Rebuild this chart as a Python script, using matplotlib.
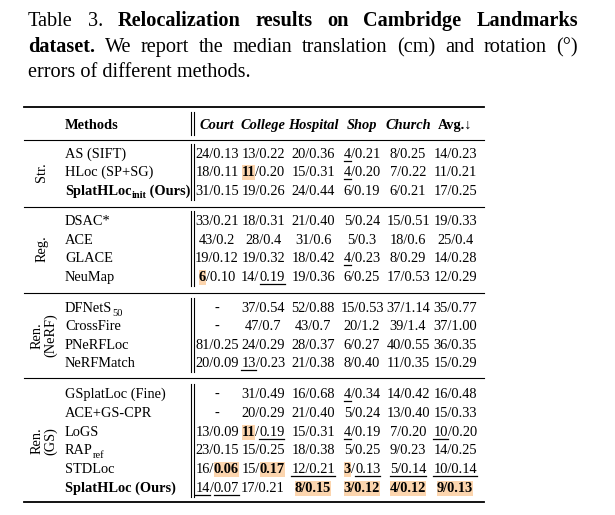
import matplotlib
matplotlib.use("Agg")
import matplotlib.pyplot as plt
from matplotlib.patches import Rectangle

# ---------------- data ----------------
columns = ["Court", "College", "Hospital", "Shop", "Church", "Avg.↓"]
groups = [("Str.", 3), ("Reg.", 4), ("Ren.\n(NeRF)", 4), ("Ren.\n(GS)", 6)]
# method names: list of (text, bold, sub)
methods = [
    [("AS (SIFT)", 0, 0)],
    [("HLoc (SP+SG)", 0, 0)],
    [("SplatHLoc", 1, 0), ("init", 1, 1), (" (Ours)", 1, 0)],
    [("DSAC*", 0, 0)],
    [("ACE", 0, 0)],
    [("GLACE", 0, 0)],
    [("NeuMap", 0, 0)],
    [("DFNetS", 0, 0), ("50", 0, 1)],
    [("CrossFire", 0, 0)],
    [("PNeRFLoc", 0, 0)],
    [("NeRFMatch", 0, 0)],
    [("GSplatLoc (Fine)", 0, 0)],
    [("ACE+GS-CPR", 0, 0)],
    [("LoGS", 0, 0)],
    [("RAP", 0, 0), ("ref", 0, 1)],
    [("STDLoc", 0, 0)],
    [("SplatHLoc (Ours)", 1, 0)],
]
# '*' = best (bold + highlight), '_' = second best (underline)
court = ["24/0.13", "18/0.11", "31/0.15", "33/0.21", "43/0.2", "19/0.12", "*6*/0.10",
         "-", "-", "81/0.25", "20/0.09", "-", "-", "13/0.09", "23/0.15", "16/*0.06*", "_14_/_0.07_"]
college = ["13/0.22", "*11*/0.20", "19/0.26", "18/0.31", "28/0.4", "19/0.32", "14/_0.19_",
           "37/0.54", "47/0.7", "24/0.29", "_13_/0.23", "31/0.49", "20/0.29", "*11*/_0.19_",
           "15/0.25", "15/*0.17*", "17/0.21"]
hospital = ["20/0.36", "15/0.31", "24/0.44", "21/0.40", "31/0.6", "18/0.42", "19/0.36",
            "52/0.88", "43/0.7", "28/0.37", "21/0.38", "16/0.68", "21/0.40", "15/0.31",
            "18/0.38", "_12/0.21_", "*8/0.15*"]
shop = ["_4_/0.21", "_4_/0.20", "6/0.19", "5/0.24", "5/0.3", "_4_/0.23", "6/0.25",
        "15/0.53", "20/1.2", "6/0.27", "8/0.40", "_4_/0.34", "5/0.24", "_4_/0.19",
        "5/0.25", "*3*/_0.13_", "*3/0.12*"]
church = ["8/0.25", "7/0.22", "6/0.21", "15/0.51", "18/0.6", "8/0.29", "17/0.53",
          "37/1.14", "39/1.4", "40/0.55", "11/0.35", "14/0.42", "13/0.40", "7/0.20",
          "9/0.23", "_5/0.14_", "*4/0.12*"]
avg = ["14/0.23", "11/0.21", "17/0.25", "19/0.33", "25/0.4", "14/0.28", "12/0.29",
       "35/0.77", "37/1.00", "36/0.35", "15/0.29", "16/0.48", "15/0.33", "_10_/0.20",
       "14/0.25", "_10/0.14_", "*9/0.13*"]
values = [court, college, hospital, shop, church, avg]

# ---------------- layout ----------------
W, H = 615, 515
fig = plt.figure(figsize=(W / 100, H / 100), dpi=100)
ax = fig.add_axes([0, 0, 1, 1])
ax.set_xlim(0, W)
ax.set_ylim(H, 0)
ax.axis("off")
renderer = fig.canvas.get_renderer()
FAM = ["Liberation Serif", "DejaVu Serif"]
HL = "#fcd5ae"
FS = 10.4
CFS = 14.6


def draw_pieces(x, y, pieces, align="left", fs=FS, justify_to=None):
    arts = []
    for p in pieces:
        size = fs * 0.72 if p.get("sub") else fs
        t = ax.text(0, y, p["text"], fontsize=size, family=FAM,
                    fontweight="bold" if p.get("bold") else "normal",
                    fontstyle="italic" if p.get("italic") else "normal",
                    va="baseline", ha="left")
        w = t.get_window_extent(renderer).width
        arts.append((t, w, p))
    total = sum(a[1] for a in arts)
    gap = 0
    if justify_to is not None and len(arts) > 1:
        gap = (justify_to - x - total) / (len(arts) - 1)
    cx = x - total / 2 if align == "center" else x
    for t, w, p in arts:
        yy = y + 3.5 if p.get("sub") else y
        t.set_position((cx, yy))
        if p.get("hl"):
            ax.add_patch(Rectangle((cx, y - 11.5), w, 15, color=HL, lw=0, zorder=0))
        if p.get("ul"):
            ax.plot([cx, cx + w], [y + 3, y + 3], color="black", lw=0.9)
        cx += w + gap
    return total


def parse(s):
    pieces, buf, b, u = [], "", False, False
    for ch in s:
        if ch in "*_":
            if buf:
                pieces.append(dict(text=buf, bold=b, hl=b, ul=u))
            buf = ""
            if ch == "*":
                b = not b
            else:
                u = not u
        else:
            buf += ch
    if buf:
        pieces.append(dict(text=buf, bold=b, hl=b, ul=u))
    return pieces


def words(text, bold=0):
    return [dict(text=w, bold=bold) for w in text.split()]


# caption (justified lines)
draw_pieces(28, 26, words("Table 3.") + words("Relocalization results on Cambridge Landmarks", 1),
            fs=CFS, justify_to=578)
draw_pieces(28, 52, words("dataset.", 1) + words("We report the median translation (cm) and rotation (°)"),
            fs=CFS, justify_to=578)
draw_pieces(28, 77, [dict(text="errors of different methods.")], fs=CFS)

# rules
XL, XR = 24, 484
ax.plot([XL, XR], [107, 107], color="black", lw=1.3)
for yr in [140, 207, 293, 378]:
    ax.plot([XL, XR], [yr, yr], color="black", lw=0.8)
ax.plot([XL, XR], [502, 502], color="black", lw=1.3)

col_x = [217, 263, 313, 362, 408, 455]
row_y = [153, 171, 190, 220, 239, 257, 276, 307, 325, 344, 362, 393, 412, 431, 449, 468, 487]
row_y = [y + 5 for y in row_y]

# header
hy = 129
draw_pieces(65, hy, [dict(text="Methods", bold=1)])
for c, x in zip(columns, col_x):
    draw_pieces(x, hy, [dict(text=c, bold=1, italic=(c != "Avg.↓"))], align="center")
ax.plot([191, 191], [112, 135], color="black", lw=0.8)
ax.plot([194, 194], [112, 135], color="black", lw=0.8)

blocks = [(0, 3), (3, 7), (7, 11), (11, 17)]
for a, b in blocks:
    y0, y1 = row_y[a] - 14, row_y[b - 1] + 5
    ax.plot([191, 191], [y0, y1], color="black", lw=0.8)
    ax.plot([194, 194], [y0, y1], color="black", lw=0.8)

# group labels
start = 0
for name, n in groups:
    yc = (row_y[start] + row_y[start + n - 1]) / 2 - 4
    lines = name.split("\n")
    xs = [42] if len(lines) == 1 else [37, 51]
    for ln, xx in zip(lines, xs):
        ax.text(xx, yc, ln, rotation=90, fontsize=FS, family=FAM, ha="center", va="center")
    start += n

# rows
for i, y in enumerate(row_y):
    draw_pieces(65, y, [dict(text=t, bold=b, sub=s) for t, b, s in methods[i]])
    for j, x in enumerate(col_x):
        draw_pieces(x, y, parse(values[j][i]), align="center")

fig.savefig("out.png", dpi=100)
